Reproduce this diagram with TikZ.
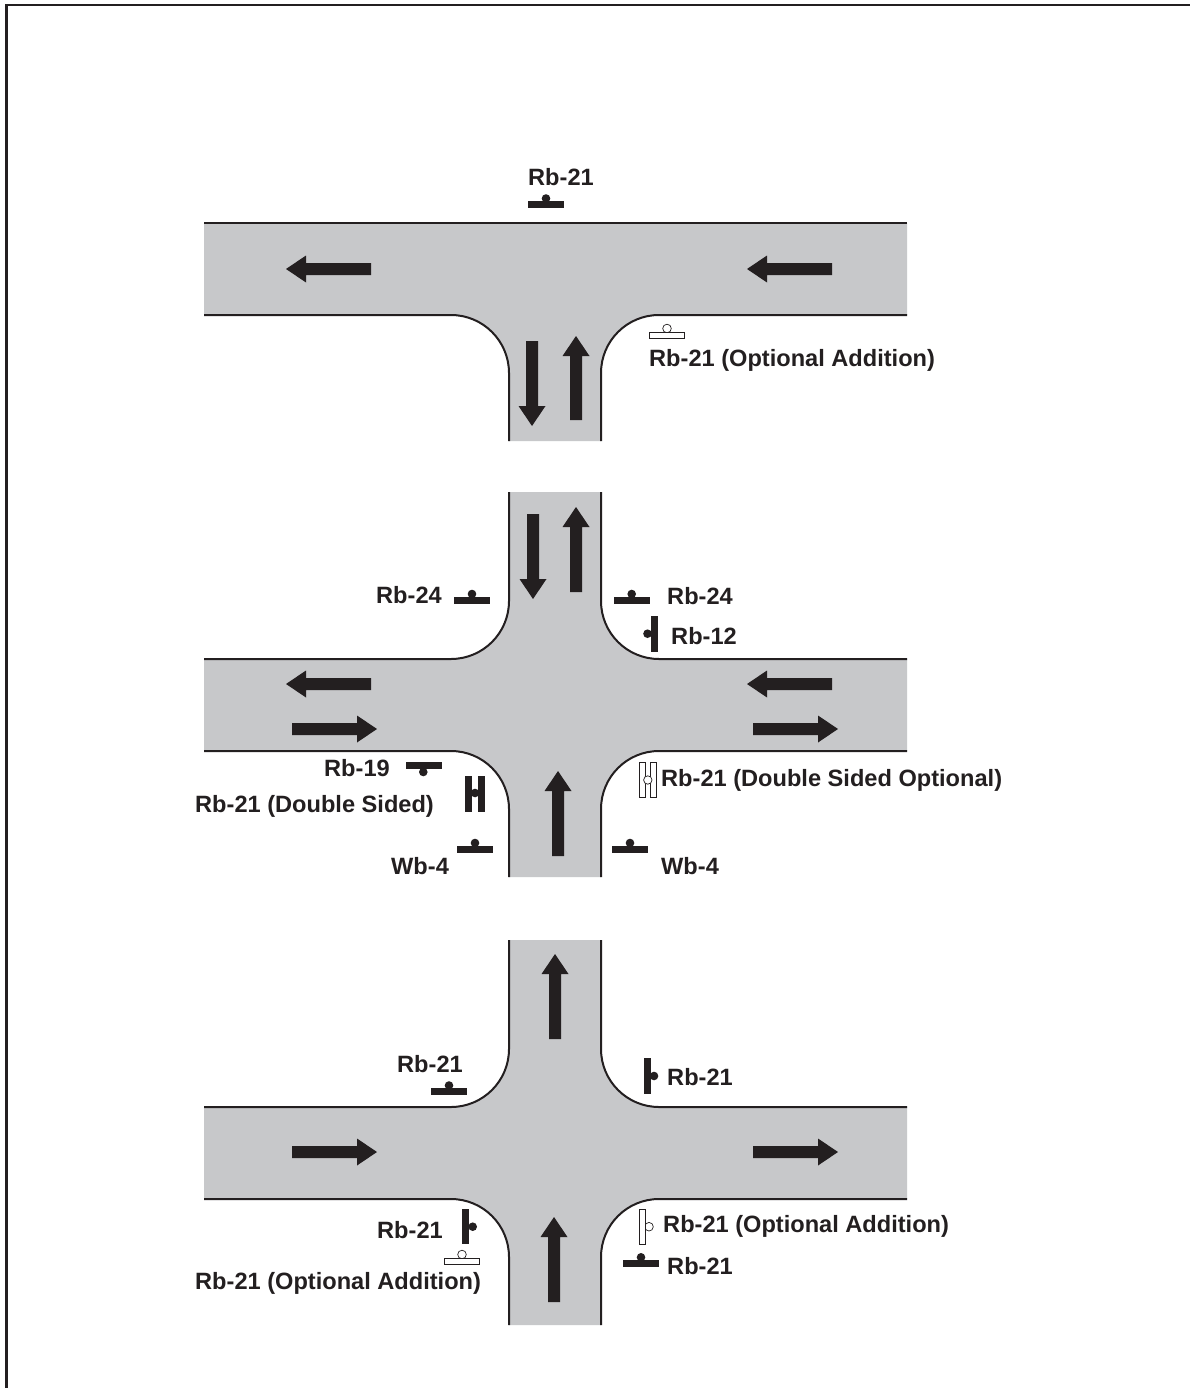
\documentclass[tikz,border=0pt]{standalone}
\usepackage{fontspec}
\setmainfont{Liberation Sans}
\definecolor{road}{HTML}{C7C8CA}
\definecolor{ink}{HTML}{231F20}
\tikzset{x=1pt,y=-1pt,
 edge/.style={draw=ink,line width=2pt},
 lab/.style={anchor=base west,inner sep=0pt,text=ink,font=\bfseries\fontsize{23.6}{26}\selectfont},
 solidbar/.style={fill=ink,draw=none},
 openbar/.style={fill=white,draw=ink,line width=0.7pt},
 solidpost/.style={fill=ink,draw=none},
 openpost/.style={fill=white,draw=ink,line width=0.7pt},
 arrowshape/.style={fill=ink,draw=none}}
\newcommand{\uparrowmark}[3]{\fill[arrowshape] (#1-6,#2) -- (#1+6,#2) -- (#1+6,#3+20) -- (#1+13.5,#3+20) -- (#1,#3) -- (#1-13.5,#3+20) -- (#1-6,#3+20) -- cycle;}
\newcommand{\downarrowmark}[3]{\fill[arrowshape] (#1-6,#2) -- (#1+6,#2) -- (#1+6,#3-20) -- (#1+13.5,#3-20) -- (#1,#3) -- (#1-13.5,#3-20) -- (#1-6,#3-20) -- cycle;}
\newcommand{\leftarrowmark}[3]{\fill[arrowshape] (#2,#1-6) -- (#2,#1+6) -- (#3+20,#1+6) -- (#3+20,#1+13.5) -- (#3,#1) -- (#3+20,#1-13.5) -- (#3+20,#1-6) -- cycle;}
\newcommand{\rightarrowmark}[3]{\fill[arrowshape] (#2,#1-6) -- (#2,#1+6) -- (#3-20,#1+6) -- (#3-20,#1+13.5) -- (#3,#1) -- (#3-20,#1-13.5) -- (#3-20,#1-6) -- cycle;}
\newcommand{\signmark}[7]{\path[#1post] (#6,#7) circle (4.3); \path[#1bar] (#2,#3) rectangle (#4,#5);}
\newcommand{\crossroad}[3]{%
 \fill[road] (509,#1) -- (601,#1) -- (601,#2-58) .. controls (601,#2-26) and (627,#2) .. (659,#2) -- (907,#2) -- (907,#2+92) -- (659,#2+92) .. controls (627,#2+92) and (601,#2+118) .. (601,#2+150) -- (601,#3) -- (509,#3) -- (509,#2+150) .. controls (509,#2+118) and (483,#2+92) .. (451,#2+92) -- (204,#2+92) -- (204,#2) -- (451,#2) .. controls (483,#2) and (509,#2-26) .. (509,#2-58) -- cycle;
 \draw[edge] (509,#1) -- (509,#2-58) .. controls (509,#2-26) and (483,#2) .. (451,#2) -- (204,#2);
 \draw[edge] (601,#1) -- (601,#2-58) .. controls (601,#2-26) and (627,#2) .. (659,#2) -- (907,#2);
 \draw[edge] (204,#2+92) -- (451,#2+92) .. controls (483,#2+92) and (509,#2+118) .. (509,#2+150) -- (509,#3);
 \draw[edge] (907,#2+92) -- (659,#2+92) .. controls (627,#2+92) and (601,#2+118) .. (601,#2+150) -- (601,#3);
}
\begin{document}
\begin{tikzpicture}
\useasboundingbox (0,0) rectangle (1190,1388);
\fill[white] (0,0) rectangle (1190,1388);
\draw[ink,line width=2.4pt] (6.3,1388) -- (6.3,5) -- (1190,5);
% T junction
\fill[road] (204,223) -- (907,223) -- (907,315) -- (659,315) .. controls (627,315) and (601,341) .. (601,373) -- (601,441) -- (509,441) -- (509,373) .. controls (509,341) and (483,315) .. (451,315) -- (204,315) -- cycle;
\draw[edge] (204,223) -- (907,223);
\draw[edge] (204,315) -- (451,315) .. controls (483,315) and (509,341) .. (509,373) -- (509,441);
\draw[edge] (907,315) -- (659,315) .. controls (627,315) and (601,341) .. (601,373) -- (601,441);
\leftarrowmark{269}{371}{286}
\leftarrowmark{269}{832}{747}
\downarrowmark{532}{341}{426}
\uparrowmark{576}{420}{336}
% crossroads
\crossroad{492}{659}{877}
\crossroad{940}{1107}{1325}
\downarrowmark{533}{514}{599}
\uparrowmark{576}{592}{507}
\leftarrowmark{684}{371}{286}
\leftarrowmark{684}{832}{747}
\rightarrowmark{729}{292}{377}
\rightarrowmark{729}{753}{838}
\uparrowmark{558}{856}{771}
\uparrowmark{555}{1039}{954}
\rightarrowmark{1152}{292}{377}
\rightarrowmark{1152}{753}{838}
\uparrowmark{554}{1302}{1217}
% signs
\signmark{solid}{528}{201}{564}{208}{546}{198.5}
\signmark{open}{649.5}{332}{684.5}{338.5}{667}{328.5}
\signmark{solid}{454}{596.5}{490}{603.5}{472}{594}
\signmark{solid}{614}{596.5}{650}{603.5}{631.7}{594}
\signmark{solid}{651}{616}{658}{652}{647.5}{633.7}
\signmark{solid}{406}{762.3}{442}{769}{423.3}{772}
\signmark{solid}{465}{775.7}{471.7}{811.7}{475}{793}
\path[solidbar] (478.3,775.7) rectangle (485,811.7);
\signmark{solid}{457.3}{846}{493}{853}{475}{843}
\signmark{solid}{612}{846}{648}{853}{630}{843}
\path[openbar] (639.5,762.5) rectangle (645.5,797.7);
\path[openbar] (650,762.5) rectangle (656,797.7);
\path[openpost] (647.8,780) circle (4.2);
\signmark{solid}{431}{1088}{467}{1095}{449}{1085.5}
\signmark{solid}{644}{1058}{651}{1094}{654}{1076}
\signmark{solid}{462.3}{1209}{469}{1244.3}{472.7}{1226.7}
\signmark{open}{444.5}{1258}{479.7}{1264}{462}{1254.5}
\signmark{open}{639.5}{1209.3}{645.5}{1244.5}{649}{1226.7}
\signmark{solid}{623}{1260}{659}{1267}{641}{1257.3}
% labels
\node[lab] (t1) at (528,185.5) {Rb-21};
\node[lab] (t2) at (649,366) {Rb-21 (Optional Addition)};
\node[lab] (m1) at (376,603) {Rb-24};
\node[lab] (m2) at (667,604) {Rb-24};
\node[lab] (m3) at (671,644) {Rb-12};
\node[lab] (m4) at (324,776) {Rb-19};
\node[lab] (m5) at (195,812) {Rb-21 (Double Sided)};
\node[lab] (m6) at (391,874) {Wb-4};
\node[lab] (m7) at (661,874) {Wb-4};
\node[lab] (m8) at (661,786) {Rb-21 (Double Sided Optional)};
\node[lab] (b1) at (397,1072) {Rb-21};
\node[lab] (b2) at (667,1085) {Rb-21};
\node[lab] (b3) at (377,1238) {Rb-21};
\node[lab] (b4) at (195,1289) {Rb-21 (Optional Addition)};
\node[lab] (b5) at (663,1232) {Rb-21 (Optional Addition)};
\node[lab] (b6) at (667,1274) {Rb-21};
\end{tikzpicture}
\end{document}
